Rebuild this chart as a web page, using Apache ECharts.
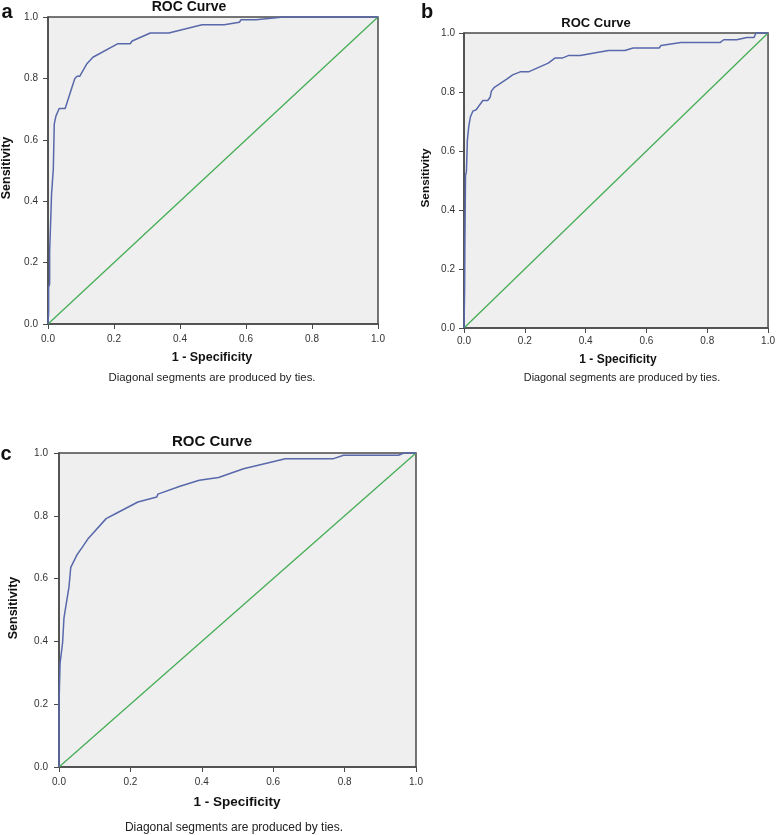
<!DOCTYPE html>
<html>
<head>
<meta charset="utf-8">
<script src="https://cdn.jsdelivr.net/npm/echarts@6/dist/echarts.min.js"></script>
<style>
html,body{margin:0;padding:0;background:#fff;}
#chart{width:778px;height:835px;}
</style>
</head>
<body>
<div id="chart"></div>
<script>
// Panel a ROC curve
const aFpr = [0, 0.002, 0.002, 0.005, 0.005, 0.008, 0.011, 0.012, 0.015, 0.016, 0.019, 0.024, 0.034, 0.052, 0.081, 0.088, 0.096, 0.118, 0.136, 0.212, 0.249, 0.255, 0.31, 0.366, 0.467, 0.534, 0.58, 0.585, 0.63, 0.714, 1.0];
const aTpr = [0, 0.04, 0.12, 0.13, 0.235, 0.24, 0.43, 0.44, 0.49, 0.50, 0.652, 0.677, 0.702, 0.702, 0.799, 0.807, 0.807, 0.848, 0.869, 0.913, 0.913, 0.922, 0.948, 0.948, 0.975, 0.975, 0.983, 0.991, 0.991, 1.0, 1.0];
// Panel b ROC curve
const bFpr = [0, 0.002, 0.003, 0.005, 0.008, 0.011, 0.013, 0.016, 0.021, 0.029, 0.04, 0.062, 0.078, 0.086, 0.09, 0.1, 0.143, 0.16, 0.165, 0.187, 0.214, 0.277, 0.299, 0.323, 0.345, 0.382, 0.475, 0.529, 0.556, 0.642, 0.648, 0.713, 0.843, 0.854, 0.897, 0.93, 0.954, 0.96, 1.0];
const bTpr = [0, 0.127, 0.3, 0.517, 0.53, 0.636, 0.638, 0.686, 0.715, 0.735, 0.74, 0.771, 0.771, 0.782, 0.803, 0.816, 0.845, 0.858, 0.862, 0.869, 0.869, 0.898, 0.915, 0.915, 0.924, 0.924, 0.941, 0.941, 0.949, 0.949, 0.958, 0.968, 0.968, 0.977, 0.977, 0.985, 0.985, 1.0, 1.0];
// Panel c ROC curve
const cFpr = [0, 0, 0.003, 0.003, 0.01, 0.012, 0.014, 0.028, 0.033, 0.05, 0.066, 0.082, 0.132, 0.162, 0.221, 0.274, 0.277, 0.339, 0.393, 0.447, 0.517, 0.634, 0.769, 0.797, 0.951, 0.966, 1.0];
const cTpr = [0, 0.195, 0.2, 0.331, 0.395, 0.40, 0.476, 0.574, 0.636, 0.675, 0.701, 0.728, 0.791, 0.809, 0.844, 0.86, 0.869, 0.894, 0.913, 0.922, 0.95, 0.982, 0.982, 0.993, 0.993, 1.0, 1.0];
// Reference diagonal
const diagX = [0, 1];
const diagY = [0, 1];
// Tick labels
const tickValues = [0, 0.2, 0.4, 0.6, 0.8, 1.0];
const panelLetters = ['a', 'b', 'c'];
const chartTitle = 'ROC Curve';
const xName = '1 - Specificity';
const yName = 'Sensitivity';
const note = 'Diagonal segments are produced by ties.';

const FONT = '"Liberation Sans", Arial, sans-serif';
const AXIS_COLOR = '#4a4a4a';

function pairs(xs, ys) { return xs.map((x, i) => [x, ys[i]]); }

const grids = [
  {left: 48, top: 17, width: 330, height: 307, lm: 10, bm: 10},
  {left: 464, top: 33, width: 308, height: 295, lm: 9, bm: 8},
  {left: 59, top: 453, width: 357, height: 314, lm: 11, bm: 10}
];

const option = {
  animation: false,
  backgroundColor: '#ffffff',
  grid: grids.map(g => ({
    left: g.left, top: g.top, width: g.width, height: g.height,
    show: true, backgroundColor: '#efefef', borderColor: AXIS_COLOR, borderWidth: 1.5,
    containLabel: false
  })),
  xAxis: grids.map((g, i) => ({
    type: 'value', gridIndex: i, min: 0, max: 1, interval: 0.2,
    axisLine: {show: true, onZero: false, lineStyle: {color: AXIS_COLOR, width: 1.5}},
    axisTick: {show: true, length: 5, lineStyle: {color: AXIS_COLOR, width: 1}},
    axisLabel: {margin: g.bm, color: '#333', fontSize: 10, fontFamily: FONT,
      formatter: v => (tickValues.find(t => Math.abs(t - v) < 1e-9) ?? v).toFixed(1)},
    splitLine: {show: false}
  })),
  yAxis: grids.map((g, i) => ({
    type: 'value', gridIndex: i, min: 0, max: 1, interval: 0.2,
    axisLine: {show: true, onZero: false, lineStyle: {color: AXIS_COLOR, width: 1.5}},
    axisTick: {show: true, length: 5, lineStyle: {color: AXIS_COLOR, width: 1}},
    axisLabel: {margin: g.lm, color: '#333', fontSize: 10, fontFamily: FONT,
      formatter: v => (tickValues.find(t => Math.abs(t - v) < 1e-9) ?? v).toFixed(1)},
    splitLine: {show: false}
  })),
  series: [
    ...[[aFpr, aTpr], [bFpr, bTpr], [cFpr, cTpr]].map((d, i) => ({
      type: 'line', xAxisIndex: i, yAxisIndex: i, data: pairs(d[0], d[1]),
      showSymbol: false, symbol: 'none', clip: false, z: 5,
      lineStyle: {color: '#5868aa', width: 1.5}
    })),
    ...[0, 1, 2].map(i => ({
      type: 'line', xAxisIndex: i, yAxisIndex: i, data: pairs(diagX, diagY),
      showSymbol: false, symbol: 'none', z: 4,
      lineStyle: {color: '#45ad55', width: 1.3}
    }))
  ],
  graphic: []
};

function txt(text, x, y, size, bold, rot, color) {
  return {
    type: 'text', x: x, y: y, rotation: rot || 0, silent: true,
    style: {
      text: text, fill: color || '#111',
      font: (bold ? 'bold ' : '') + size + 'px ' + FONT,
      align: 'center', verticalAlign: 'middle',
      textAlign: 'center', textVerticalAlign: 'middle'
    }
  };
}

option.graphic = [
  // panel a
  txt(panelLetters[0], 7, 12, 20, true),
  txt(chartTitle, 189, 7, 14, true),
  txt(yName, 7, 168, 12.5, true, Math.PI / 2),
  txt(xName, 212, 358, 12.5, true),
  txt(note, 212, 378, 11.4, false, 0, '#222'),
  // panel b
  txt(panelLetters[1], 427, 12, 20, true),
  txt(chartTitle, 596, 23, 13, true),
  txt(yName, 426, 178, 11.8, true, Math.PI / 2),
  txt(xName, 618, 360, 12, true),
  txt(note, 622, 378, 10.8, false, 0, '#222'),
  // panel c
  txt(panelLetters[2], 6, 454, 20, true),
  txt(chartTitle, 212, 442, 15, true),
  txt(yName, 13.5, 608, 12.5, true, Math.PI / 2),
  txt(xName, 237, 802, 13.5, true),
  txt(note, 234, 828, 12, false, 0, '#222')
];

const chart = echarts.init(document.getElementById('chart'), null, {renderer: 'canvas'});
chart.setOption(option);
</script>
</body>
</html>
